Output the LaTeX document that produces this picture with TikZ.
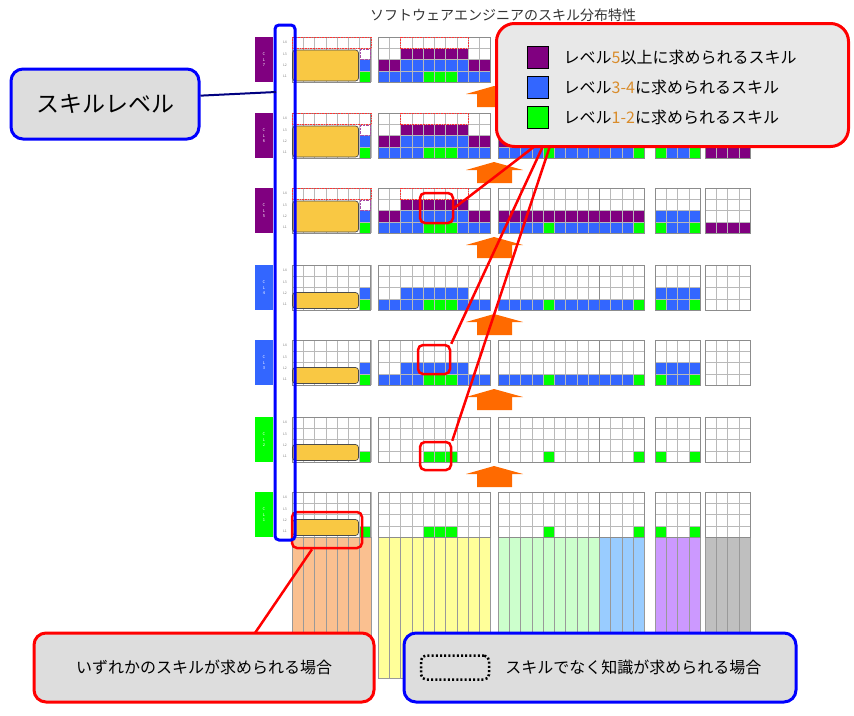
\documentclass[tikz,border=0pt]{standalone}
\usepackage{fontspec}
\setmainfont{Noto Sans CJK JP}
\usepackage{tikz}
\usetikzlibrary{positioning}

\definecolor{lvpurple}{HTML}{800080}
\definecolor{lvblue}{HTML}{3366FF}
\definecolor{lvgreen}{HTML}{00FF00}
\definecolor{boxgray}{HTML}{DDDDDD}
\definecolor{legendgray}{HTML}{E8E8E8}
\definecolor{arrorange}{HTML}{FF6A00}
\definecolor{basegold}{HTML}{F9C843}
\definecolor{digitorange}{HTML}{D98C2B}
\definecolor{colorange}{HTML}{FAC090}
\definecolor{colyellow}{HTML}{FFFF99}
\definecolor{colgreen}{HTML}{CCFFCC}
\definecolor{colblue}{HTML}{99CCFF}
\definecolor{colpurple}{HTML}{CC99FF}
\definecolor{colgray}{HTML}{BFBFBF}

\def\cw{11.25}
% top, level, group x, first col, last col, colour
\newcommand{\cellpaint}[6]{\fill[#6] ({#3+(#4-1)*\cw},{#1+(4-#2)*\cw}) rectangle ({#3+#5*\cw},{#1+(5-#2)*\cw});}
% group x, columns, top
\newcommand{\gridblock}[3]{%
  \foreach \k in {1,2,3} \draw[gridline] (#1,{#3+\k*\cw}) -- ({#1+#2*\cw},{#3+\k*\cw});
  \foreach \k in {1,...,#2} \draw[gridline] ({#1+\k*\cw},#3) -- ({#1+\k*\cw},{#3+45});
  \draw[blockline] (#1,#3) rectangle ({#1+#2*\cw},{#3+45});}

\begin{document}
\begin{tikzpicture}[x=1pt,y=-1pt,
  gridline/.style={draw=gray!55, line width=0.4pt},
  blockline/.style={draw=gray!90, line width=0.9pt},
  lvtag/.style={minimum width=18pt, minimum height=45pt, inner sep=0pt, text=white, font=\fontsize{4}{4.5}\selectfont},
  ltext/.style={text=gray, font=\fontsize{3.5}{4}\selectfont, inner sep=0pt},
  basebox/.style={draw=black!70, fill=basegold, rounded corners=3pt, minimum width=66pt, inner sep=0pt, line width=0.7pt},
  reddots/.style={draw=red!80, densely dotted, line width=0.6pt},
  hlbox/.style={draw=red, line width=2.5pt, rounded corners=5pt, inner sep=0pt},
  redline/.style={red, line width=2.5pt},
  callout/.style={fill=boxgray, line width=3pt, rounded corners=12pt, inner sep=0pt},
  swatch/.style={draw=black, line width=1pt, minimum width=21pt, minimum height=22pt, inner sep=0pt},
  legtext/.style={font=\fontsize{16}{18}\selectfont, inner sep=0pt},
  stripline/.style={draw=black!40, line width=0.4pt}]
\useasboundingbox (0,0) rectangle (854,715);

\node[anchor=west, text=black!80, font=\fontsize{14}{16}\selectfont, inner sep=0pt] (title) at (370,15) {ソフトウェアエンジニアのスキル分布特性};

% coloured cells, CL5-CL7
\foreach \t in {37,113,188}{
  \cellpaint{\t}{2}{292}{7}{7}{lvblue}
  \cellpaint{\t}{1}{292}{7}{7}{lvgreen}
  \cellpaint{\t}{3}{378}{3}{8}{lvpurple}
  \cellpaint{\t}{2}{378}{1}{2}{lvpurple}
  \cellpaint{\t}{2}{378}{3}{8}{lvblue}
  \cellpaint{\t}{2}{378}{9}{10}{lvpurple}
  \cellpaint{\t}{1}{378}{1}{4}{lvblue}
  \cellpaint{\t}{1}{378}{5}{7}{lvgreen}
  \cellpaint{\t}{1}{378}{8}{10}{lvblue}
  \cellpaint{\t}{2}{498}{1}{13}{lvpurple}
  \cellpaint{\t}{1}{498}{1}{4}{lvblue}
  \cellpaint{\t}{1}{498}{5}{5}{lvgreen}
  \cellpaint{\t}{1}{498}{6}{12}{lvblue}
  \cellpaint{\t}{1}{498}{13}{13}{lvgreen}
  \cellpaint{\t}{2}{655}{1}{4}{lvblue}
  \cellpaint{\t}{1}{655}{1}{1}{lvgreen}
  \cellpaint{\t}{1}{655}{2}{3}{lvblue}
  \cellpaint{\t}{1}{655}{4}{4}{lvgreen}
  \cellpaint{\t}{1}{705}{1}{4}{lvpurple}
}
% CL3-CL4
\foreach \t in {265,340}{
  \cellpaint{\t}{2}{292}{7}{7}{lvblue}
  \cellpaint{\t}{1}{292}{7}{7}{lvgreen}
  \cellpaint{\t}{2}{378}{3}{8}{lvblue}
  \cellpaint{\t}{1}{378}{1}{4}{lvblue}
  \cellpaint{\t}{1}{378}{5}{7}{lvgreen}
  \cellpaint{\t}{1}{378}{8}{10}{lvblue}
  \cellpaint{\t}{1}{498}{1}{4}{lvblue}
  \cellpaint{\t}{1}{498}{5}{5}{lvgreen}
  \cellpaint{\t}{1}{498}{6}{12}{lvblue}
  \cellpaint{\t}{1}{498}{13}{13}{lvgreen}
  \cellpaint{\t}{2}{655}{1}{4}{lvblue}
  \cellpaint{\t}{1}{655}{1}{1}{lvgreen}
  \cellpaint{\t}{1}{655}{2}{3}{lvblue}
  \cellpaint{\t}{1}{655}{4}{4}{lvgreen}
}
% CL1-CL2
\foreach \t in {417,492}{
  \cellpaint{\t}{1}{292}{7}{7}{lvgreen}
  \cellpaint{\t}{1}{378}{5}{7}{lvgreen}
  \cellpaint{\t}{1}{498}{5}{5}{lvgreen}
  \cellpaint{\t}{1}{498}{13}{13}{lvgreen}
  \cellpaint{\t}{1}{655}{1}{1}{lvgreen}
  \cellpaint{\t}{1}{655}{4}{4}{lvgreen}
}

% skill columns under the chart
\foreach \x/\n/\c in {292/7/colorange,378/10/colyellow,498/9/colgreen,599.25/4/colblue,655/4/colpurple,705/4/colgray}
  \foreach \k in {1,...,\n}
    \draw[stripline, fill=\c] ({\x+(\k-1)*\cw},537) rectangle ({\x+\k*\cw},678);

% rows
\foreach \t/\lab/\lc in {37/7/lvpurple,113/6/lvpurple,188/5/lvpurple,265/4/lvblue,340/3/lvblue,417/2/lvgreen,492/1/lvgreen}{
  \node[lvtag, fill=\lc] (tag\lab) at (264,{\t+22.5}) {\shortstack{C\\L\\\lab}};
  \foreach \L in {1,...,4}
    \node[ltext] (lev\lab-\L) at (285,{\t+(4.5-\L)*\cw}) {L\L};
  \gridblock{292}{7}{\t}
  \gridblock{378}{10}{\t}
  \gridblock{498}{13}{\t}
  \draw[blockline] (599.25,\t) -- (599.25,{\t+45});
  \gridblock{655}{4}{\t}
  \gridblock{705}{4}{\t}
}
\foreach \t/\lab in {37/7,113/6,188/5}{
  \node[basebox, minimum height=31pt] (base\lab) at (325.5,{\t+28.5}) {};
  \draw[reddots] (292,\t) rectangle (371,{\t+\cw});
  \draw[reddots] (400.5,\t) rectangle (468,{\t+\cw});
  \draw[draw=lvpurple!70, densely dotted, fill=white] (360.5,{\t+12}) rectangle (370,{\t+22});
}
\foreach \t/\lab in {265/4,340/3,417/2,492/1}
  \node[basebox, minimum height=16pt] (base\lab) at (325.5,{\t+35.5}) {};

% upward arrows
\foreach \y in {86,162,237,314,389,466}
  \fill[arrorange] (494,\y) -- (523,{\y+8}) -- (512,{\y+8}) -- (512,{\y+21})
    -- (477,{\y+21}) -- (477,{\y+8}) -- (466,{\y+8}) -- cycle;

% highlights
\node[hlbox, minimum width=33pt, minimum height=30pt] (hlcl5) at (436.5,208) {};
\node[hlbox, minimum width=32pt, minimum height=29pt] (hlcl3) at (434,359.5) {};
\node[hlbox, minimum width=31pt, minimum height=28pt] (hlcl2) at (435.5,456) {};
\node[hlbox, minimum width=70pt, minimum height=36pt] (hlcl1) at (327,530) {};
\node[draw=blue, line width=3pt, rounded corners=4pt, minimum width=20pt, minimum height=515pt, inner sep=0pt] (lvlframe) at (285,282.5) {};

% legend
\coordinate (lgpin1) at (535,146);
\coordinate (lgpin2) at (543,146);
\coordinate (lgpin3) at (550,146);
\draw[redline] (hlcl5.east) -- (lgpin1);
\draw[redline] (hlcl3.north east) -- (lgpin2);
\draw[redline] (hlcl2.north east) -- (lgpin3);
\node[draw=red, fill=legendgray, line width=3pt, rounded corners=18pt, minimum width=352pt, minimum height=123pt, inner sep=0pt] (legend) at (672.5,85) {};
\node[swatch, fill=lvpurple] (swp) at (537.5,57) {};
\node[swatch, fill=lvblue] (swb) at (537.5,87) {};
\node[swatch, fill=lvgreen] (swg) at (537.5,117.5) {};
\node[legtext, right=15pt of swp] (txp) {レベル\textcolor{digitorange}{5}以上に求められるスキル};
\node[legtext, right=15pt of swb] (txb) {レベル\textcolor{digitorange}{3-4}に求められるスキル};
\node[legtext, right=15pt of swg] (txg) {レベル\textcolor{digitorange}{1-2}に求められるスキル};

% skill level callout
\coordinate (lvlpin) at (276,92);
\node[callout, draw=blue, minimum width=188pt, minimum height=70pt, font=\fontsize{23}{26}\selectfont] (lvlbox) at (105,104) {スキルレベル};
\draw[draw=blue!50!black, line width=2pt] (lvlbox.5) -- (lvlpin);

% bottom callouts
\coordinate (cl1pin) at (255,633);
\draw[redline] ([xshift=-15pt]hlcl1.south) -- (cl1pin);
\node[callout, draw=red, minimum width=340pt, minimum height=69pt, font=\fontsize{16}{18}\selectfont] (cl1) at (204,667.5) {いずれかのスキルが求められる場合};
\node[callout, draw=blue, minimum width=392pt, minimum height=69pt] (cl2) at (600,667.5) {};
\node[draw=black, dash pattern=on 2pt off 2.2pt, line width=2.5pt, rounded corners=5pt, minimum width=68pt, minimum height=24pt, inner sep=0pt] (dotbox) at (455,667.5) {};
\node[legtext, right=15pt of dotbox] (cl2txt) {スキルでなく知識が求められる場合};
\end{tikzpicture}
\end{document}
